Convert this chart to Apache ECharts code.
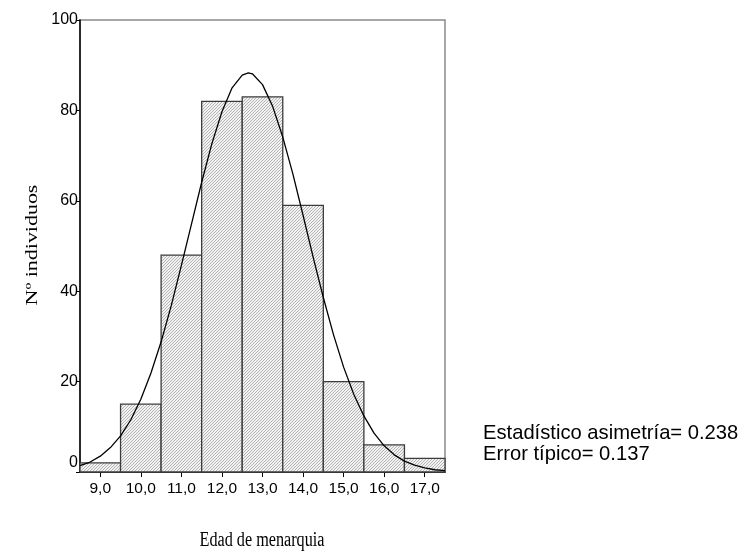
<!DOCTYPE html>
<html>
<head>
<meta charset="utf-8">
<script src="https://cdn.jsdelivr.net/npm/echarts@6/dist/echarts.min.js"></script>
<style>
html,body{margin:0;padding:0;background:#fff;}
#chart{width:754px;height:551px;}
</style>
</head>
<body>
<div id="chart"></div>
<script>
// ---- data ----
const binCenters = [9, 10, 11, 12, 13, 14, 15, 16, 17];
const binLabels = ['9,0', '10,0', '11,0', '12,0', '13,0', '14,0', '15,0', '16,0', '17,0'];
const counts = [2, 15, 48, 82, 83, 59, 20, 6, 3];
const curveX = [8.5, 8.75, 9, 9.25, 9.5, 9.75, 10, 10.25, 10.5, 10.75, 11, 11.25, 11.5, 11.75, 12, 12.25, 12.5, 12.65, 12.75, 13, 13.25, 13.5, 13.75, 14, 14.25, 14.5, 14.75, 15, 15.25, 15.5, 15.75, 16, 16.25, 16.5, 16.75, 17, 17.25, 17.5];
const curveY = [1.4, 2.2, 3.5, 5.4, 8.0, 11.5, 16.1, 21.9, 28.8, 36.8, 45.7, 54.9, 64.1, 72.6, 79.7, 85.0, 87.8, 88.3, 88.1, 85.7, 80.9, 74.1, 65.9, 56.8, 47.5, 38.6, 30.4, 23.2, 17.2, 12.4, 8.6, 5.8, 3.8, 2.4, 1.5, 0.9, 0.5, 0.3];
const yTicks = [0, 20, 40, 60, 80, 100];
const xTitle = 'Edad de menarquia';
const yTitle = 'Nº individuos';
const statLines = ['Estadístico asimetría= 0.238', 'Error típico= 0.137'];

// hatch pattern
const pc = document.createElement('canvas');
pc.width = 3; pc.height = 3;
const pctx = pc.getContext('2d');
pctx.fillStyle = '#f2f2f2';
pctx.fillRect(0, 0, 3, 3);
pctx.fillStyle = '#b4b4b4';
pctx.fillRect(2, 0, 1, 1);
pctx.fillRect(1, 1, 1, 1);
pctx.fillRect(0, 2, 1, 1);
const hatch = { image: pc, repeat: 'repeat' };

const chart = echarts.init(document.getElementById('chart'), null, { renderer: 'canvas' });

const option = {
  animation: false,
  backgroundColor: '#ffffff',
  grid: {
    left: 80, right: 309, top: 20, bottom: 79,
    show: true, borderColor: '#8a8a8a', borderWidth: 1.5, backgroundColor: 'transparent'
  },
  xAxis: {
    type: 'value',
    min: 8.5, max: 17.5,
    splitLine: { show: false },
    axisLine: { show: true, onZero: false, lineStyle: { color: '#000', width: 1.5 } },
    axisTick: { show: true, length: 5, customValues: binCenters, lineStyle: { color: '#000', width: 1 } },
    axisLabel: {
      customValues: binCenters,
      margin: 9,
      fontFamily: 'Liberation Sans, Arial, sans-serif',
      fontSize: 15.5,
      color: '#000',
      formatter: function (v) {
        const i = binCenters.indexOf(Math.round(v));
        return i >= 0 ? binLabels[i] : '';
      }
    }
  },
  yAxis: {
    type: 'value',
    min: yTicks[0], max: yTicks[yTicks.length - 1], interval: 20,
    splitLine: { show: false },
    axisLine: { show: true, lineStyle: { color: '#000', width: 1.5 } },
    axisTick: { show: true, length: 4, lineStyle: { color: '#000', width: 1 } },
    axisLabel: {
      margin: 2,
      fontFamily: 'Liberation Sans, Arial, sans-serif',
      fontSize: 16,
      color: '#000',
      formatter: function (v) { return v === 0 ? '{z|0}' : String(v); },
      rich: { z: { fontFamily: 'Liberation Sans, Arial, sans-serif', fontSize: 16, color: '#000', padding: [0, 0, 18, 0] } }
    }
  },
  series: [
    {
      type: 'custom',
      data: binCenters.map((c, i) => [c, counts[i]]),
      renderItem: function (params, api) {
        const x = api.value(0), y = api.value(1);
        const p1 = api.coord([x - 0.5, y]);
        const p2 = api.coord([x + 0.5, 0]);
        return {
          type: 'rect',
          shape: { x: p1[0], y: p1[1], width: p2[0] - p1[0], height: p2[1] - p1[1] },
          style: { fill: hatch, stroke: '#3c3c3c', lineWidth: 1.3 }
        };
      },
      z: 2
    },
    {
      type: 'line',
      data: curveX.map((x, i) => [x, curveY[i]]),
      smooth: false,
      showSymbol: false,
      lineStyle: { color: '#000', width: 1.3, join: 'round' },
      z: 3
    }
  ],
  graphic: [
    {
      type: 'text',
      x: 33, y: 245,
      rotation: Math.PI / 2,
      scaleX: 1.33,
      style: {
        text: yTitle,
        fontFamily: 'Liberation Serif, Times New Roman, serif',
        fontSize: 16.5,
        fill: '#000',
        align: 'center',
        verticalAlign: 'middle'
      }
    },
    {
      type: 'text',
      x: 262, y: 540,
      scaleY: 1.35,
      style: {
        text: xTitle,
        fontFamily: 'Liberation Serif, Times New Roman, serif',
        fontSize: 16.2,
        fill: '#000',
        align: 'center',
        verticalAlign: 'middle'
      }
    },
    {
      type: 'text',
      x: 483, y: 433,
      style: {
        text: statLines[0],
        fontFamily: 'Liberation Sans, Arial, sans-serif',
        fontSize: 20.2,
        fill: '#000',
        align: 'left',
        verticalAlign: 'middle'
      }
    },
    {
      type: 'text',
      x: 483, y: 454,
      style: {
        text: statLines[1],
        fontFamily: 'Liberation Sans, Arial, sans-serif',
        fontSize: 20.2,
        fill: '#000',
        align: 'left',
        verticalAlign: 'middle'
      }
    }
  ]
};
chart.setOption(option);
</script>
</body>
</html>
